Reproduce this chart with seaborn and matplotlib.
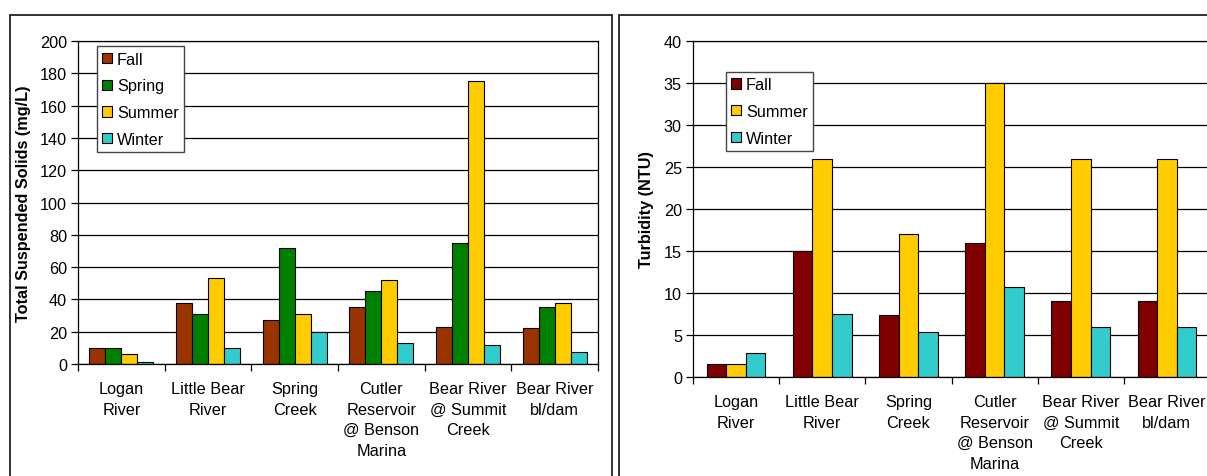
import matplotlib
matplotlib.use("Agg")
import matplotlib.pyplot as plt
from matplotlib.patches import Rectangle
from matplotlib.ticker import FixedLocator, MultipleLocator
import seaborn as sns
import pandas as pd

# Sampling sites along the x axis (shared by both panels)
sites = [
    "Logan\nRiver",
    "Little Bear\nRiver",
    "Spring\nCreek",
    "Cutler\nReservoir\n@ Benson\nMarina",
    "Bear River\n@ Summit\nCreek",
    "Bear River\nbl/dam",
]

# Total suspended solids (mg/L) by season
tss_fall = [10, 38, 27, 35, 23, 22]
tss_spring = [10, 31, 72, 45, 75, 35]
tss_summer = [6, 53, 31, 52, 175, 38]
tss_winter = [1.5, 10, 20, 13, 12, 7.5]

# Turbidity (NTU) by season
ntu_fall = [1.6, 15, 7.4, 16, 9, 9]
ntu_summer = [1.6, 26, 17, 35, 26, 26]
ntu_winter = [2.9, 7.5, 5.4, 10.7, 5.9, 5.9]

season_colors = {
    "Fall": "#993300",
    "Spring": "#008000",
    "Summer": "#FFCC00",
    "Winter": "#33CCCC",
}
season_colors_ntu = {
    "Fall": "#800000",
    "Summer": "#FFCC00",
    "Winter": "#33CCCC",
}

sns.set_style("white")
plt.rcParams["font.family"] = ["Liberation Sans", "DejaVu Sans"]
plt.rcParams["text.color"] = "black"
plt.rcParams["axes.labelcolor"] = "black"
plt.rcParams["xtick.color"] = "black"
plt.rcParams["ytick.color"] = "black"

FS = 11.7

W, H = 1207, 477
fig = plt.figure(figsize=(W / 100, H / 100), dpi=100)
fig.patch.set_facecolor("white")


def px_axes(x0, x1, ytop, ybot):
    return fig.add_axes([x0 / W, 1 - ybot / H, (x1 - x0) / W, (ybot - ytop) / H])


def long_frame(names, series):
    rows = []
    for season, vals in series.items():
        for s, v in zip(names, vals):
            rows.append({"site": s, "season": season, "value": v})
    return pd.DataFrame(rows)


def style_axis(ax, ymax, ystep, ylabel, label_x, show_right):
    ax.set_ylim(0, ymax)
    ax.set_xlim(-0.5, len(sites) - 0.5)
    ax.yaxis.set_major_locator(MultipleLocator(ystep))
    ax.yaxis.grid(True, color="black", linewidth=0.9)
    ax.set_axisbelow(True)
    for side in ["left", "bottom", "top", "right"]:
        ax.spines[side].set_color("black")
        ax.spines[side].set_linewidth(0.9)
    ax.spines["top"].set_visible(True)
    ax.spines["right"].set_visible(show_right)
    ax.set_xlabel("")
    ax.set_ylabel(ylabel, fontsize=FS, fontweight="bold")
    ax.yaxis.set_label_coords(label_x, 0.5)
    ax.tick_params(axis="y", which="major", direction="out", length=5,
                   width=0.9, pad=3, labelsize=FS, left=True)
    ax.xaxis.set_minor_locator(FixedLocator([i - 0.5 for i in range(len(sites) + 1)]))
    ax.tick_params(axis="x", which="minor", direction="out", length=5,
                   width=0.9, bottom=True)
    ax.tick_params(axis="x", which="major", length=0, pad=12.5, labelsize=FS)
    ax.set_xticks(range(len(sites)))
    ax.set_xticklabels(sites, linespacing=1.45)


def add_legend(ax, order, palette, anchor):
    handles = [Rectangle((0, 0), 1, 1, facecolor=palette[k], edgecolor="black",
                         linewidth=0.8) for k in order]
    leg = ax.legend(handles, order, loc="upper left", bbox_to_anchor=anchor,
                    borderaxespad=0, fontsize=FS, frameon=True, fancybox=False,
                    handlelength=0.6, handleheight=0.6, handletextpad=0.3,
                    labelspacing=0.72, borderpad=0.32)
    leg.get_frame().set_edgecolor("#444444")
    leg.get_frame().set_linewidth(1.0)
    leg.get_frame().set_alpha(1)


# Left panel: total suspended solids
ax1 = px_axes(78, 598, 42, 365)
df1 = long_frame(sites, {"Fall": tss_fall, "Spring": tss_spring,
                         "Summer": tss_summer, "Winter": tss_winter})
sns.barplot(data=df1, x="site", y="value", hue="season",
            hue_order=list(season_colors), palette=season_colors,
            order=sites, width=0.74, gap=0, edgecolor="black", linewidth=0.8,
            saturation=1, errorbar=None, legend=False, ax=ax1)
style_axis(ax1, 200, 20, "Total Suspended Solids (mg/L)", -0.09, True)
add_legend(ax1, list(season_colors), season_colors, (0.0365, 0.983))

# Right panel: turbidity
ax2 = px_axes(693, 1210, 42, 378)
df2 = long_frame(sites, {"Fall": ntu_fall, "Summer": ntu_summer,
                         "Winter": ntu_winter})
sns.barplot(data=df2, x="site", y="value", hue="season",
            hue_order=list(season_colors_ntu), palette=season_colors_ntu,
            order=sites, width=0.68, gap=0, edgecolor="black", linewidth=0.8,
            saturation=1, errorbar=None, legend=False, ax=ax2)
style_axis(ax2, 40, 5, "Turbidity (NTU)", -0.075, False)
add_legend(ax2, list(season_colors_ntu), season_colors_ntu, (0.064, 0.908))

# Panel frames around each chart
for x0, x1 in [(10, 612), (619, 1230)]:
    fig.add_artist(Rectangle((x0 / W, -0.1), (x1 - x0) / W, 0.1 + 1 - 16 / H,
                             transform=fig.transFigure, fill=False,
                             edgecolor="#222222", linewidth=1.3))

fig.savefig("out.png", dpi=100, facecolor="white")
